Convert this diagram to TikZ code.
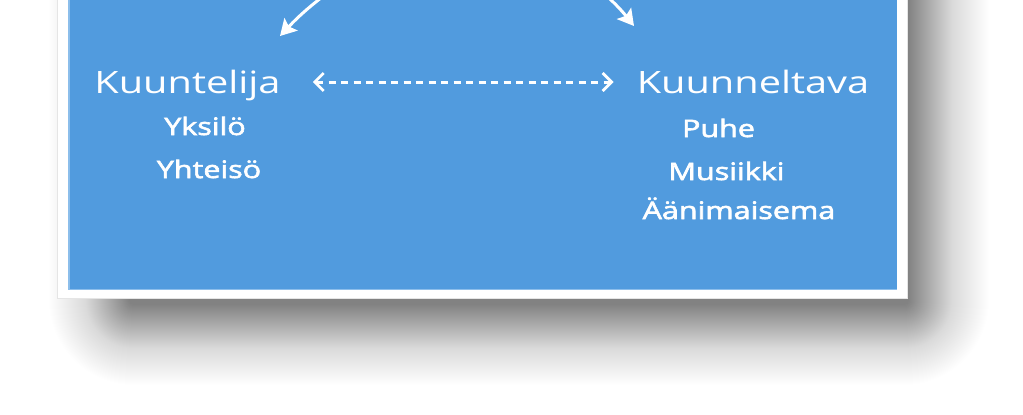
\documentclass[tikz,border=0pt]{standalone}
\usepackage{fontspec}
\usetikzlibrary{arrows.meta,calc}
\newfontfamily\labfont[FakeStretch=1.29]{Open Sans}
\newfontfamily\subfont[FakeStretch=1.27,FakeBold=2.6]{Open Sans}
\definecolor{panelblue}{RGB}{81,155,222}
\definecolor{edgeblue}{RGB}{140,190,235}
\tikzset{
  mainlabel/.style={text=white, inner sep=0pt, anchor=base, font=\labfont\fontsize{30.8}{36}\selectfont},
  sublabel/.style={text=white, inner sep=0pt, anchor=base, font=\subfont\fontsize{24}{28}\selectfont},
  cyclearrow/.style={draw=white, line width=3pt, -{Stealth[length=16pt,width=18pt,inset=3pt]}},
  dasharrow/.style={draw=white, line width=3pt, dash pattern=on 7pt off 5.5pt,
    {Straight Barb[length=9pt,width=18pt,line width=2.8pt]}-{Straight Barb[length=9pt,width=18pt,line width=2.8pt]}}
}
\begin{document}
\begin{tikzpicture}[x=1pt,y=-1pt]
\useasboundingbox (0,0) rectangle (1023,415);
\fill[white] (0,0) rectangle (1023,415);
% soft shadow
\foreach \i in {0,...,89} {
  \pgfmathsetmacro{\r}{(90-\i)+4}
  \pgfmathsetmacro{\op}{0.001+0.0001*\i}
  \fill[black, fill opacity=\op, rounded corners=\r pt] (40+\i,-120) rectangle (998-\i,394-\i);
}
% white frame and blue panel
\fill[white, draw=black!10, line width=0.8pt] (57,-20) rectangle (907,298);
\fill[panelblue] (68,-20) rectangle (897,290);
\draw[edgeblue, line width=1.5pt] (68.75,-20) -- (68.75,289.25) -- (897,289.25);
% labels
\node[mainlabel] (kl) at (187.5,93) {Kuuntelija};
\node[mainlabel] (kv) at (753,93) {Kuunneltava};
\node[sublabel] (yk) at (205,135) {Yksilö};
\node[sublabel] (yh) at (209,178) {Yhteisö};
\node[sublabel] (pu) at (718.5,137) {Puhe};
\node[sublabel] (mu) at (726.5,180) {Musiikki};
\node[sublabel] (aa) at (739,219) {Äänimaisema};
% connectors
\coordinate (topl) at (334,-12);
\coordinate (tipl) at (280,36);
\coordinate (topr) at (598,-12);
\coordinate (tipr) at (634,26);
\draw[cyclearrow] (topl) to[bend right=5] (tipl);
\draw[cyclearrow] (topr) to[bend left=5] (tipr);
\draw[dasharrow] ($(kl.base east)+(32,-11)$) -- ($(kv.base west)+(-23,-11)$);
\end{tikzpicture}
\end{document}
